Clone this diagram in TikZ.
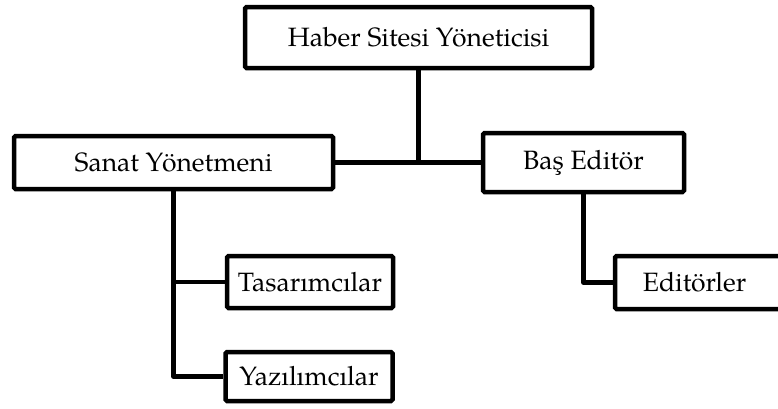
\documentclass[tikz,border=0pt]{standalone}
\usepackage{fontspec}
\setmainfont{TeX Gyre Pagella}
\begin{document}
\begin{tikzpicture}[x=1pt,y=-1pt,
  box/.style={draw=black,line width=4.5pt,rounded corners=1.5pt,fill=white,
    inner sep=0pt,font=\fontsize{26.5}{31}\selectfont,anchor=center},
  link/.style={draw=black,line width=4.5pt,line join=round}]
\useasboundingbox (0,0) rectangle (778,408);
\clip (0,0) rectangle (778,408);
\node[box,minimum width=347pt,minimum height=61pt] (top) at (418.5,37.5) {Haber Sitesi Yöneticisi};
\node[box,minimum width=319pt,minimum height=53pt] (sanat) at (173.5,162.5) {Sanat Yönetmeni};
\node[box,minimum width=201pt,minimum height=59pt] (bas) at (583.5,162.5) {Baş Editör};
\node[box,minimum width=166pt,minimum height=52pt] (tas) at (310,282) {Tasarımcılar};
\node[box,minimum width=167pt,minimum height=49pt] (yaz) at (309,376.5) {Yazılımcılar};
\node[box,minimum width=180pt,minimum height=53pt] (edi) at (705,282.5) {Editörler\hspace*{21pt}};
\coordinate (mid) at (top.south |- sanat.east);
\draw[link] (sanat.east) -- (bas.west);
\draw[link] (top.south) -- (mid);
\draw[link] (sanat.south) |- (yaz.west);
\draw[link] (sanat.south |- tas.west) -- (tas.west);
\draw[link] (bas.south) |- (edi.west);
\end{tikzpicture}
\end{document}
